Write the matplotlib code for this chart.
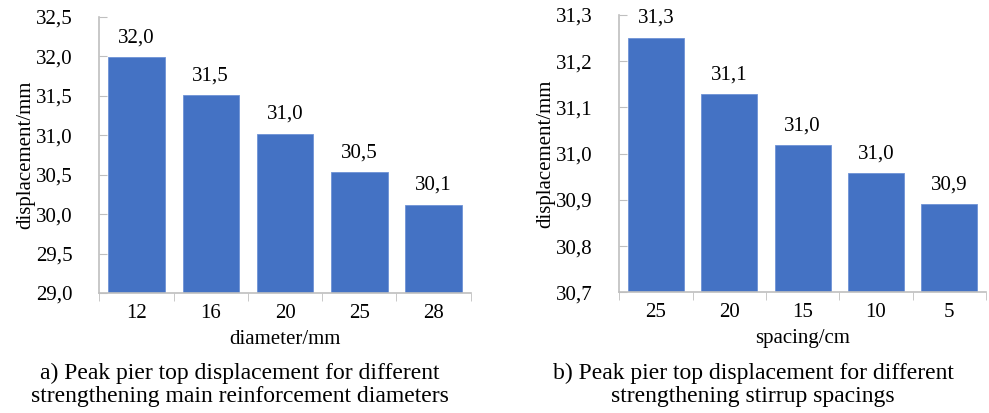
import numpy as np
import matplotlib
matplotlib.use('Agg')
import matplotlib.pyplot as plt
from matplotlib.ticker import FuncFormatter, FixedLocator

plt.rcParams['font.family'] = 'serif'
plt.rcParams['font.serif'] = ['Liberation Serif', 'TeX Gyre Termes', 'DejaVu Serif']

# 数据
diam_labels = ['12', '16', '20', '25', '28']
diam_disp = [31.99, 31.51, 31.02, 30.53, 30.12]
spacing_labels = ['25', '20', '15', '10', '5']
spacing_disp = [31.251, 31.129, 31.019, 30.958, 30.891]

bar_color = '#4472C4'
axis_color = '#BFBFBF'
fs = 15          # 刻度、标签
fs_cap = 17      # 图注

def comma(v, pos=None):
    return f'{v:.1f}'.replace('.', ',')

def draw_bars(ax, labels, vals, ylim, ystep, xlabel, ylabel):
    x = np.arange(len(labels))
    ax.bar(x, vals, width=0.76, color=bar_color, edgecolor='#6E92D6', linewidth=0.6, zorder=2)
    ax.set_ylim(ylim)
    ax.set_xlim(-0.5, len(labels) - 0.5)
    ax.set_yticks(np.round(np.arange(ylim[0], ylim[1] + ystep / 2, ystep), 2))
    ax.yaxis.set_major_formatter(FuncFormatter(comma))
    ax.set_xticks(x)
    ax.set_xticklabels(labels)
    ax.xaxis.set_minor_locator(FixedLocator(np.arange(-0.5, len(labels), 1.0)))
    ax.tick_params(axis='x', which='major', length=0, pad=8, labelsize=fs)
    ax.tick_params(axis='x', which='minor', length=6, direction='out', color=axis_color)
    ax.tick_params(axis='y', which='major', length=6, direction='in', color=axis_color,
                   pad=19, labelsize=fs)
    for s in ['top', 'right']:
        ax.spines[s].set_visible(False)
    for s in ['left', 'bottom']:
        ax.spines[s].set_color(axis_color)
        ax.spines[s].set_linewidth(1.2)
    ax.set_xlabel(xlabel, fontsize=fs, labelpad=5)
    ax.set_ylabel(ylabel, fontsize=fs, labelpad=1)
    for xi, v in zip(x, vals):
        ax.annotate(comma(v), (xi, v), xytext=(0, 7), textcoords='offset points',
                    ha='center', va='bottom', fontsize=fs)

fig = plt.figure(figsize=(9.89, 4.13), dpi=100)
ax1 = fig.add_axes([0.1004, 0.2906, 0.3756, 0.6682])
ax2 = fig.add_axes([0.6262, 0.2923, 0.3708, 0.6714])

draw_bars(ax1, diam_labels, diam_disp, (29.0, 32.5), 0.5, 'diameter/mm', 'displacement/mm')
draw_bars(ax2, spacing_labels, spacing_disp, (30.7, 31.3), 0.1, 'spacing/cm', 'displacement/mm')

fig.text(240 / 989, 1 - 385 / 413,
         'a) Peak pier top displacement for different\nstrengthening main reinforcement diameters',
         ha='center', va='center', fontsize=fs_cap, linespacing=1.15)
fig.text(753 / 989, 1 - 385 / 413,
         'b) Peak pier top displacement for different\nstrengthening stirrup spacings',
         ha='center', va='center', fontsize=fs_cap, linespacing=1.15)

fig.savefig('out.png', dpi=100)
